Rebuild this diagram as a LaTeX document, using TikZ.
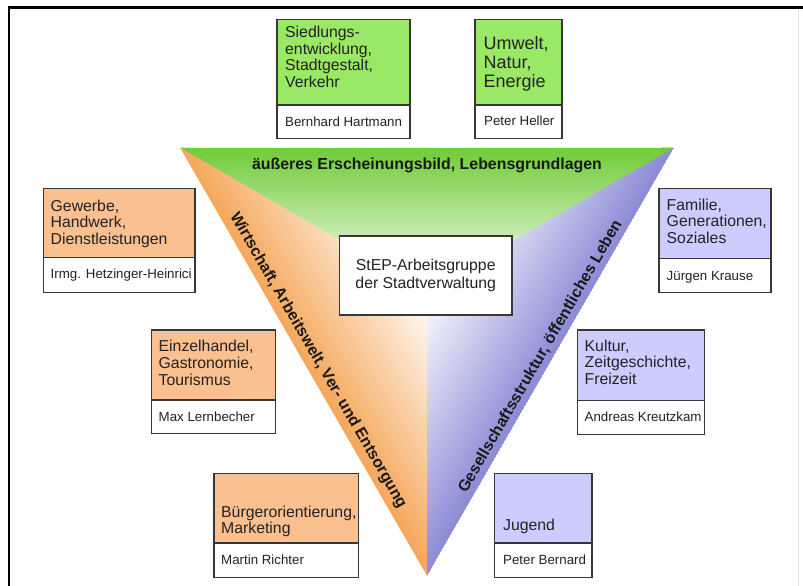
\documentclass[tikz,border=0pt]{standalone}
\usepackage{fontspec}
\setmainfont{Liberation Sans}
\definecolor{tgreen}{RGB}{112,204,56}
\definecolor{torange}{RGB}{245,168,92}
\definecolor{tpurple}{RGB}{140,140,215}
\definecolor{bgreen}{RGB}{153,232,102}
\definecolor{borange}{RGB}{250,192,144}
\definecolor{bpurple}{RGB}{204,204,255}
\definecolor{bline}{RGB}{55,55,55}
\definecolor{txt}{RGB}{35,35,35}
\tikzset{
  cell/.style={draw=bline, line width=1.3pt},
  bodytext/.style={anchor=base west, inner sep=0pt, text=txt, font=\fontsize{15.8}{16.7}\selectfont},
  bigtext/.style={anchor=base west, inner sep=0pt, text=txt, font=\fontsize{18}{18.7}\selectfont},
  nametext/.style={anchor=base west, inner sep=0pt, text=txt, font=\fontsize{13.3}{15}\selectfont},
  sidelabel/.style={inner sep=0pt, text=black!90, font=\bfseries\fontsize{15.9}{18}\selectfont},
}
\newcommand\catcell[7]{%
  \path[cell, fill=#6] (#1,#2) rectangle (#3,#4);
  \path[cell, fill=white] (#1,#4) rectangle (#3,#5);
}
\begin{document}
\begin{tikzpicture}[x=1pt,y=-1pt]
\useasboundingbox (0,0) rectangle (803,586);
\fill[white] (0,0) rectangle (803,586);
\coordinate (TL) at (180,147.5);
\coordinate (TR) at (674,147.5);
\coordinate (B) at (427,576);
\coordinate (C) at (427,290.33);
% triangle with three gradients
\begin{scope}
  \clip (TL) -- (TR) -- (B) -- cycle;
  \begin{scope}
    \clip (180,140) -- (431,287) -- (431,600) -- (100,600) -- (100,140) -- cycle;
    \begin{scope}[shift={(303.5,361.75)}, rotate=30]
      \foreach \i in {0,...,49}{
        \pgfmathtruncatemacro\p{100-2*\i}
        \fill[torange!\p!white] (\i*2.86,-300) rectangle (\i*2.86+3.4,300);
      }
    \end{scope}
  \end{scope}
  \begin{scope}
    \clip (674,140) -- (427,284.7) -- (427,600) -- (750,600) -- (750,140) -- cycle;
    \begin{scope}[shift={(550.5,361.75)}, rotate=150]
      \foreach \i in {0,...,49}{
        \pgfmathtruncatemacro\p{100-2*\i}
        \fill[tpurple!\p!white] (\i*2.86,-300) rectangle (\i*2.86+3.4,300);
      }
    \end{scope}
  \end{scope}
  \begin{scope}
    \clip (TL) -- (TR) -- (C) -- cycle;
    \begin{scope}[shift={(427,147.5)}, rotate=-90]
      \foreach \i in {0,...,49}{
        \pgfmathtruncatemacro\p{100-2*\i}
        \fill[tgreen!\p!white] (\i*2.86,-300) rectangle (\i*2.86+3.4,300);
      }
    \end{scope}
  \end{scope}
\end{scope}
% triangle labels
\node[sidelabel, anchor=base] (hd) at (427,169.3) {äußeres Erscheinungsbild, Lebensgrundlagen};
\node[sidelabel, rotate=-60] (lw) at (318,360.5) {Wirtschaft, Arbeitswelt, Ver- und Entsorgung};
\node[sidelabel, rotate=60] (rg) at (540.3,356.5) {Gesellschaftsstruktur, öffentliches Leben};
% centre box
\path[cell, fill=white] (339.5,236) rectangle (512,315);
\node[anchor=base, inner sep=0pt, text=txt, font=\fontsize{15.8}{18.3}\selectfont] (step) at (425.75,270)
  {\parbox[t]{170pt}{\centering StEP-Arbeitsgruppe\\der Stadtverwaltung}};
% green boxes
\catcell{277}{19.4}{410}{105}{138.5}{bgreen}{}
\node[bodytext] (s1) at (285,37.5) {\parbox[t]{125pt}{Siedlungs-\\entwicklung,\\Stadtgestalt,\\Verkehr}};
\node[nametext] (n1) at (285,126) {Bernhard Hartmann};
\catcell{475}{19.4}{562}{105}{138.5}{bgreen}{}
\node[bigtext] (s2) at (483.5,50) {\parbox[t]{80pt}{Umwelt,\\Natur,\\Energie}};
\node[nametext] (n2) at (484,125) {Peter Heller};
% orange boxes
\catcell{43.5}{188.7}{195}{257.8}{292.6}{borange}{}
\node[bodytext] (s3) at (50.5,211) {\parbox[t]{140pt}{Gewerbe,\\Handwerk,\\Dienstleistungen}};
\node[nametext] (n3) at (50.5,278.5) {Irmg. Hetzinger-Heinrici};
\catcell{151.6}{330}{275.5}{400}{433.8}{borange}{}
\node[bodytext] (s4) at (158.5,351.7) {\parbox[t]{115pt}{Einzelhandel,\\Gastronomie,\\Tourismus}};
\node[nametext] (n4) at (158.5,421) {Max Lernbecher};
\catcell{214}{473.8}{358.4}{543}{577.4}{borange}{}
\node[bodytext] (s5) at (221,517) {\parbox[t]{140pt}{Bürgerorientierung,\\Marketing}};
\node[nametext] (n5) at (221,564.5) {Martin Richter};
% purple boxes
\catcell{659}{188.7}{771}{258.4}{292.7}{bpurple}{}
\node[bodytext] (s6) at (666.5,210) {\parbox[t]{105pt}{Familie,\\Generationen,\\Soziales}};
\node[nametext] (n6) at (666.5,280) {Jürgen Krause};
\catcell{577.6}{330}{704.5}{400.5}{434.6}{bpurple}{}
\node[bodytext] (s7) at (584.5,351) {\parbox[t]{118pt}{Kultur,\\Zeitgeschichte,\\Freizeit}};
\node[nametext] (n7) at (584.5,421.5) {Andreas Kreutzkam};
\catcell{494.6}{473.8}{592}{543}{577.4}{bpurple}{}
\node[bodytext] (s8) at (503,530.7) {Jugend};
\node[nametext] (n8) at (503,564) {Peter Bernard};
% frame
\draw[line width=1pt, black!12] (798.5,8) -- (798.5,586);
\draw[line width=2.5pt, black] (9,586) -- (9,7.5) -- (803,7.5);
\end{tikzpicture}
\end{document}
